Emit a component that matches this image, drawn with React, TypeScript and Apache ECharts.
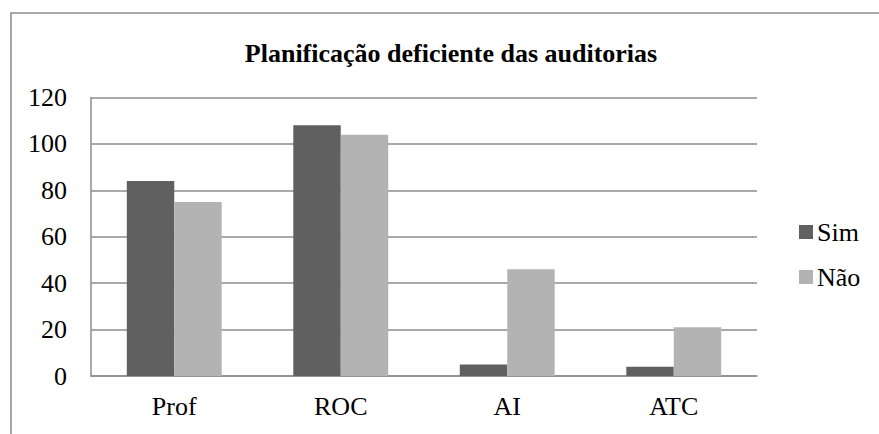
import React, { useEffect, useRef } from "react";
import * as echarts from "echarts";

const title = "Planificação deficiente das auditorias";
const categories = ["Prof", "ROC", "AI", "ATC"];
const simValues = [84, 108, 5, 4];
const naoValues = [75, 104, 46, 21];
const seriesNames = ["Sim", "Não"];

const FONT = "Times New Roman, Liberation Serif, serif";

export default function App() {
  const ref = useRef<HTMLDivElement>(null);
  useEffect(() => {
    if (!ref.current) return;
    const chart = echarts.init(ref.current, null, { renderer: "svg" });
    chart.setOption({
      animation: false,
      backgroundColor: "#ffffff",
      textStyle: { fontFamily: FONT },
      title: {
        text: title,
        left: 446,
        top: 35,
        textAlign: "center",
        textStyle: { fontFamily: FONT, fontSize: 26, fontWeight: "bold", color: "#000" },
      },
      graphic: [
        {
          type: "rect",
          shape: { x: 11, y: 13, width: 900, height: 500 },
          style: { fill: "none", stroke: "#8c8c8c", lineWidth: 1.5 },
          silent: true,
        },
      ],
      legend: {
        orient: "vertical",
        left: 794,
        top: 214,
        itemWidth: 14,
        itemHeight: 14,
        itemGap: 19,
        icon: "rect",
        textStyle: { fontFamily: FONT, fontSize: 26, color: "#000", padding: [0, 0, 0, -1] },
        data: seriesNames,
      },
      grid: { left: 91, right: 122, top: 97.5, bottom: 58 },
      xAxis: {
        type: "category",
        data: categories,
        axisLine: { lineStyle: { color: "#8c8c8c", width: 1.5 } },
        axisTick: { show: false },
        axisLabel: { fontFamily: FONT, fontSize: 26, color: "#000", margin: 17 },
      },
      yAxis: {
        type: "value",
        min: 0,
        max: 120,
        interval: 20,
        axisLine: { show: true, lineStyle: { color: "#8c8c8c", width: 1.5 } },
        axisTick: { show: false },
        splitLine: { lineStyle: { color: "#8c8c8c", width: 1.5 } },
        axisLabel: { fontFamily: FONT, fontSize: 26, color: "#000", margin: 24 },
      },
      series: [
        {
          name: seriesNames[0],
          type: "bar",
          data: simValues,
          barGap: "0%",
          barCategoryGap: "43%",
          itemStyle: { color: "#606060" },
        },
        {
          name: seriesNames[1],
          type: "bar",
          data: naoValues,
          barGap: "0%",
          barCategoryGap: "43%",
          itemStyle: { color: "#b3b3b3" },
        },
      ],
    });
    return () => chart.dispose();
  }, []);
  return (
    <div
      ref={ref}
      style={{ position: "absolute", left: 0, top: 0, width: 879, height: 434 }}
    />
  );
}
